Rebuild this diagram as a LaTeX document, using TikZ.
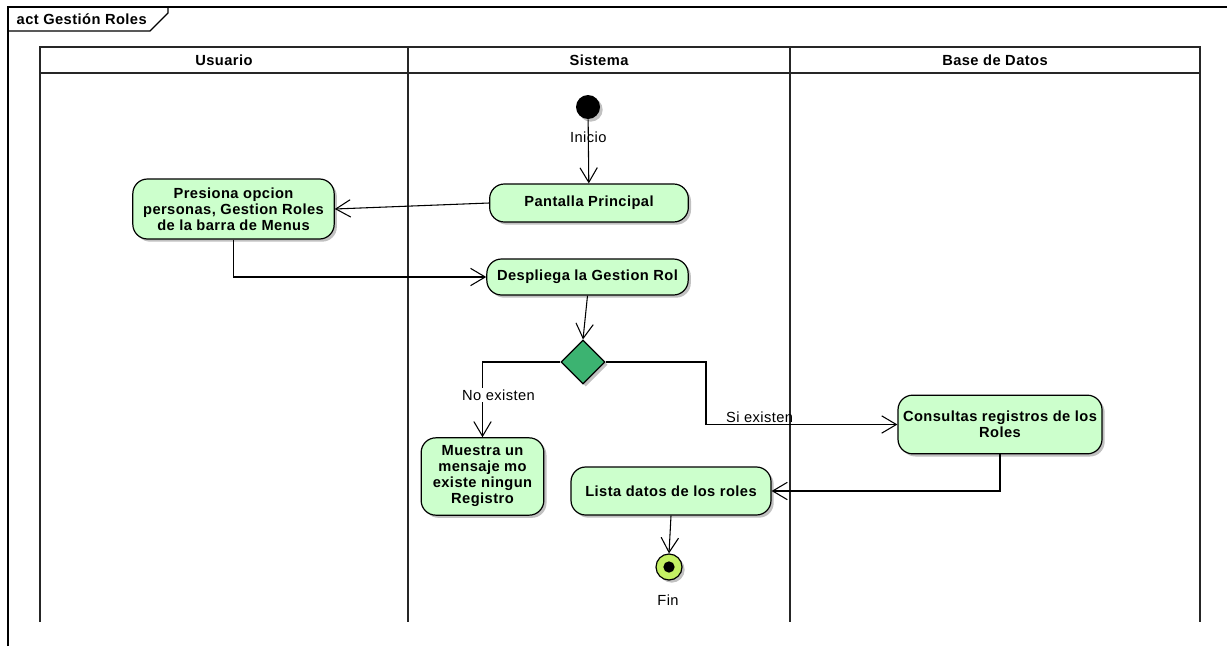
\documentclass[tikz,border=0pt]{standalone}
\usepackage{fontspec}
\setmainfont{Liberation Sans}[LetterSpace=3]
\usetikzlibrary{arrows.meta,shapes.geometric,shadows}
\definecolor{verdeclaro}{RGB}{204,255,204}
\definecolor{verdedecision}{RGB}{60,179,113}
\definecolor{verdefin}{RGB}{196,240,100}
\tikzset{
  sombra/.style={drop shadow={shadow xshift=2pt,shadow yshift=-2pt,fill=black!35,opacity=0.7}},
  accion/.style={draw, line width=0.9pt, rounded corners=11pt, fill=verdeclaro, align=center,
    inner sep=2pt, font=\fontsize{11}{12}\selectfont\bfseries, sombra},
  decision/.style={draw, line width=0.9pt, diamond, fill=verdedecision, minimum width=33pt,
    minimum height=33pt, inner sep=0pt, sombra},
  flecha/.style={line width=0.8pt, -{Straight Barb[length=11pt,width=13pt]}},
  carril/.style={line width=1.5pt, black!85},
  etiqueta/.style={font=\fontsize{11}{12}\selectfont, inner sep=1pt},
  titulo/.style={font=\fontsize{11}{12}\selectfont\bfseries}
}
\begin{document}
\begin{tikzpicture}[x=0.75pt,y=-0.75pt]
\useasboundingbox (0,0) rectangle (1227,646);
% marco
\draw[line width=0.8pt] (8,646) -- (8,7) -- (1227,7);
\draw[line width=0.8pt] (8,31) -- (150,31) -- (168,13) -- (168,7);
\node[titulo, anchor=west] (marco) at (12,19) {act Gestión Roles};
% carriles
\draw[carril] (40,622) -- (40,47) -- (1200,47) -- (1200,622);
\draw[carril] (40,73) -- (1200,73);
\draw[carril] (408,47) -- (408,622);
\draw[carril] (790,47) -- (790,622);
\node[titulo] (usuario) at (224,60) {Usuario};
\node[titulo] (sistema) at (599,60) {Sistema};
\node[titulo] (basedatos) at (995,60) {Base de Datos};
% nodos
\node[circle, fill=black, minimum size=18pt, inner sep=0pt, sombra] (inicio) at (588,107) {};
\node[accion, minimum width=149pt, minimum height=28.5pt] (pantalla) at (589,203) {Pantalla Principal};
\node[accion, minimum width=151pt, minimum height=45pt] (presiona) at (233.5,209)
  {Presiona opcion\\personas, Gestion Roles\\de la barra de Menus};
\node[accion, minimum width=151pt, minimum height=27pt] (despliega) at (587.5,277) {Despliega la Gestion Rol};
\node[decision] (existe) at (583,362) {};
\node[accion, minimum width=92pt, minimum height=58pt] (muestra) at (482.5,476.5)
  {Muestra un\\mensaje mo\\existe ningun\\Registro};
\node[accion, minimum width=153pt, minimum height=44pt] (consultas) at (1000,424.5)
  {Consultas registros de los\\Roles};
\node[accion, minimum width=150pt, minimum height=36pt] (lista) at (671,491) {Lista datos de los roles};
\node[circle, draw, line width=0.9pt, fill=verdefin, minimum size=19.5pt, inner sep=0pt, sombra] (fin) at (669,567) {};
\node[circle, fill=black, minimum size=8.5pt, inner sep=0pt] (findot) at (fin) {};
\coordinate (sibend) at (706,424.5);
% flujos
\draw[flecha] (inicio) -- node[etiqueta, pos=0.28] {Inicio} (pantalla);
\draw[flecha] (pantalla.west) -- (presiona.east);
\draw[flecha] (presiona.south) |- (despliega.west);
\draw[flecha] (despliega.south) -- (existe.north);
\draw[flecha] (existe.west) -| node[etiqueta, fill=white, pos=0.72, xshift=12pt] {No existen} (muestra.north);
\draw[flecha] (existe.east) -| (sibend) -- node[etiqueta, above, pos=0.28] {Si existen} (consultas.west);
\draw[flecha] (consultas.south) |- (lista.east);
\draw[flecha] (lista.south) -- (fin.north);
\node[etiqueta] (finlabel) at (668,600) {Fin};
\end{tikzpicture}
\end{document}
